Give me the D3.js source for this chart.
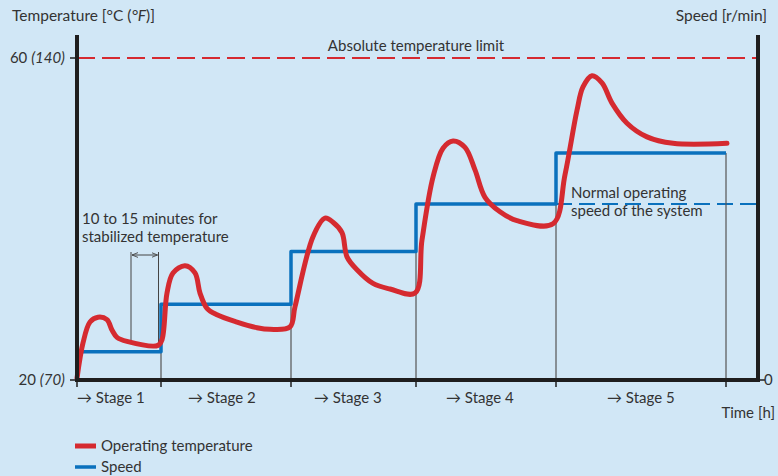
<!DOCTYPE html>
<html><head><meta charset="utf-8">
<script src="https://cdn.jsdelivr.net/npm/d3@7"></script>
<style>
body{margin:0;background:#d1e7f6;}
svg{display:block;font-family:Lato,"Open Sans",sans-serif;}
</style></head><body>
<svg id="c" width="778" height="476"></svg>
<script>
// Time in arbitrary hours (chart has no time ticks)
const stageBounds = [0, 8.4, 21.4, 33.9, 47.9, 64.9];
const stageLabels = ["→ Stage 1","→ Stage 2","→ Stage 3","→ Stage 4","→ Stage 5"];
const stageLabelX = [0, 11.1, 23.7, 36.9, 53.0];
// Speed (% of normal operating speed) per stage
const speedLevels = [16, 43, 73, 100, 129];
const normalSpeed = 100;
const tempLimit = 60;
const tempTicks = [{v:20,f:"70"},{v:60,f:"140"}];
// Operating temperature [°C] over time
const tempT = [0,0.6,1.3,2.1,3.0,3.5,4.0,5.0,8.1,
  8.5,9.0,9.6,10.8,11.8,12.3,13.0,14.0,16.0,18.0,19.3,21.3,
  21.8,23.6,24.8,25.6,26.5,27.0,28.0,29.6,31.3,33.8,
  34.5,35.6,36.6,37.6,38.8,39.8,40.8,42.3,44.0,47.6,
  48.8,50.0,50.6,51.5,52.5,53.5,55.0,57.0,59.6,65.0];
const tempV = [20.2,24.6,27.2,27.8,27.5,26.2,25.3,24.8,24.3,
  25.0,30.8,33.3,34.2,33.3,30.8,28.9,28.1,27.2,26.5,26.3,26.6,
  29.1,37.8,40.1,39.6,38.3,35.3,33.7,32.0,31.3,30.8,
  37.4,45.2,48.8,49.7,48.9,46.1,42.7,40.9,39.8,39.4,
  45.5,53.5,56.4,57.8,56.9,54.4,51.9,50.2,49.4,49.4];
</script>
<script>
const svg = d3.select("#c");
const W=778,H=476;
const x0=77,x1=758,yb=380,yt=58;
const x = d3.scaleLinear().domain([0,68.1]).range([x0,x1]);
const yT = d3.scaleLinear().domain([20,60]).range([yb,yt]);
const yS = d3.scaleLinear().domain([0,100]).range([yb,204]);
const ink="#333", axisC="#1e1e1e", red="#d52a30", blue="#0a71bd";
const fs=15;

svg.append("rect").attr("width",W).attr("height",H).attr("fill","#d1e7f6");

// Absolute limit
svg.append("line").attr("x1",x0).attr("x2",x1).attr("y1",yT(tempLimit)).attr("y2",yT(tempLimit))
  .attr("stroke",red).attr("stroke-width",2).attr("stroke-dasharray","18,7");
svg.append("text").attr("x",416).attr("y",yT(tempLimit)-7).attr("text-anchor","middle")
  .attr("font-size",fs).attr("fill",ink).text("Absolute temperature limit");

// Normal speed dashed
svg.append("line").attr("x1",x(stageBounds[4])).attr("x2",x1).attr("y1",yS(normalSpeed)).attr("y2",yS(normalSpeed))
  .attr("stroke",blue).attr("stroke-width",2).attr("stroke-dasharray","16,7");

// stage boundary lines
stageBounds.slice(1).forEach((b,i)=>{
  svg.append("line").attr("x1",x(b)).attr("x2",x(b)).attr("y1",yb).attr("y2",yS(speedLevels[i]))
   .attr("stroke","#555").attr("stroke-width",1.2);
});

// stabilization annotation
const aL = 5.4, aR = 8.15;
svg.append("line").attr("x1",x(aL)).attr("x2",x(aL)).attr("y1",252).attr("y2",yT(24.7)).attr("stroke","#444").attr("stroke-width",1);
svg.append("line").attr("x1",x(aR)).attr("x2",x(aR)).attr("y1",252).attr("y2",yT(24.3)).attr("stroke","#444").attr("stroke-width",1);
const defs=svg.append("defs");
defs.append("marker").attr("id","ah").attr("viewBox","0 0 10 10").attr("refX",10).attr("refY",5)
  .attr("markerWidth",6).attr("markerHeight",6).attr("orient","auto-start-reverse")
  .append("path").attr("d","M0,1 L10,5 L0,9").attr("fill","none").attr("stroke","#444").attr("stroke-width",1.5);
svg.append("line").attr("x1",x(aL)+1).attr("x2",x(aR)-1).attr("y1",255).attr("y2",255).attr("stroke","#444").attr("stroke-width",1)
  .attr("marker-start","url(#ah)").attr("marker-end","url(#ah)");
svg.append("text").attr("x",82).attr("y",224).attr("font-size",fs).attr("fill",ink).text("10 to 15 minutes for");
svg.append("text").attr("x",82).attr("y",242).attr("font-size",fs).attr("fill",ink).text("stabilized temperature");

// Speed steps
const sp=[];
speedLevels.forEach((s,i)=>{ sp.push([stageBounds[i]===0?0.3:stageBounds[i],s]); sp.push([stageBounds[i+1],s]); });
svg.append("path").datum(sp).attr("fill","none").attr("stroke",blue).attr("stroke-width",3.5).attr("stroke-linejoin","round")
  .attr("d",d3.line().x(d=>x(d[0])).y(d=>yS(d[1])));

svg.append("text").attr("x",571).attr("y",198).attr("font-size",fs).attr("fill",ink).text("Normal operating");
svg.append("text").attr("x",571).attr("y",216).attr("font-size",fs).attr("fill",ink).text("speed of the system");

// Temperature curve
const td = tempT.map((t,i)=>[t,tempV[i]]);
svg.append("path").datum(td).attr("fill","none").attr("stroke",red).attr("stroke-width",5).attr("stroke-linecap","round").attr("stroke-linejoin","round")
  .attr("d",d3.line().curve(d3.curveCatmullRom.alpha(0.5)).x(d=>x(d[0])).y(d=>yT(d[1])));

// Axes
svg.append("line").attr("x1",x0).attr("x2",x0).attr("y1",35).attr("y2",yb+2).attr("stroke",axisC).attr("stroke-width",4);
svg.append("line").attr("x1",x1).attr("x2",x1).attr("y1",35).attr("y2",yb+2).attr("stroke",axisC).attr("stroke-width",4);
svg.append("line").attr("x1",x0-2).attr("x2",x1+2).attr("y1",yb).attr("y2",yb).attr("stroke",axisC).attr("stroke-width",4);
// bottom ticks
stageBounds.forEach(b=>{
  svg.append("line").attr("x1",x(b)).attr("x2",x(b)).attr("y1",yb).attr("y2",yb+7).attr("stroke",axisC).attr("stroke-width",1.5);
});
// left ticks
tempTicks.forEach(t=>{
  svg.append("line").attr("x1",x0-7).attr("x2",x0).attr("y1",yT(t.v)).attr("y2",yT(t.v)).attr("stroke",axisC).attr("stroke-width",1.5);
  const tx=svg.append("text").attr("x",x0-12).attr("y",yT(t.v)+5).attr("text-anchor","end").attr("font-size",fs).attr("fill",ink);
  tx.append("tspan").text(t.v+" ");
  tx.append("tspan").attr("font-style","italic").text("("+t.f+")");
});
// right tick 0
svg.append("line").attr("x1",x1).attr("x2",x1+7).attr("y1",yb).attr("y2",yb).attr("stroke",axisC).attr("stroke-width",1.5);
svg.append("text").attr("x",x1+6).attr("y",yb+5).attr("font-size",fs).attr("fill",ink).text("0");

// stage labels
stageLabels.forEach((s,i)=>{
  svg.append("text").attr("x",x(stageLabelX[i])).attr("y",403).attr("font-size",fs).attr("fill",ink).text(s);
});
svg.append("text").attr("x",775).attr("y",418).attr("text-anchor","end").attr("font-size",fs).attr("fill",ink).text("Time [h]");

// axis titles
const tt=svg.append("text").attr("x",12).attr("y",21).attr("font-size",15.5).attr("fill",ink);
tt.append("tspan").text("Temperature [°C (");
tt.append("tspan").attr("font-style","italic").text("°F");
tt.append("tspan").text(")]");
svg.append("text").attr("x",767).attr("y",21).attr("text-anchor","end").attr("font-size",15.5).attr("fill",ink).text("Speed [r/min]");

// legend
svg.append("line").attr("x1",75).attr("x2",96).attr("y1",446).attr("y2",446).attr("stroke",red).attr("stroke-width",5);
svg.append("text").attr("x",101).attr("y",451).attr("font-size",fs).attr("fill",ink).text("Operating temperature");
svg.append("line").attr("x1",75).attr("x2",96).attr("y1",467).attr("y2",467).attr("stroke",blue).attr("stroke-width",3.5);
svg.append("text").attr("x",101).attr("y",472).attr("font-size",fs).attr("fill",ink).text("Speed");
</script>
</body></html>
